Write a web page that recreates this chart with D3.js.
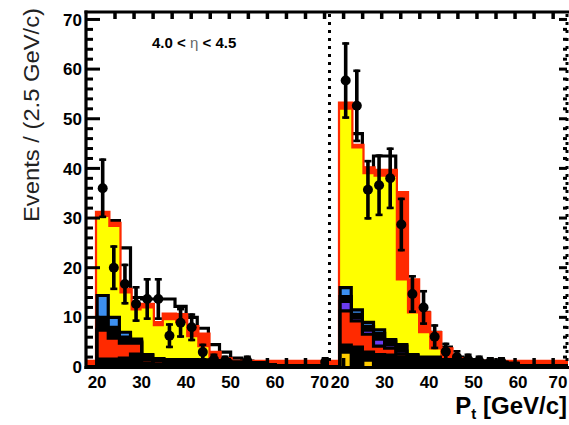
<!DOCTYPE html>
<html><head><meta charset="utf-8">
<script src="https://cdn.jsdelivr.net/npm/d3@7"></script>
<style>body{margin:0;background:#fff}text{font-family:"Liberation Sans",Arial,sans-serif}</style>
</head><body><svg id="c" width="569" height="425"></svg>
<script>
// ---------- data ----------
const binStart = [17.5,20,22.5,25,27.5,30,32.5,35,37.5,40,42.5,45,47.5,50,52.5,55,57.5,60,62.5,65,67.5,70];
const binWidth = 2.5;
const xTickLabels = [20,30,40,50,60,70];
const yTickLabels = [0,10,20,30,40,50,60,70];
const yMinorTicks = d3.range(0,72,2);
const etaText = ["4.0 < ", "η", " < 4.5"];

// panel 1
const total1   = [1.0,31,28.8,15.5,12,12.5,8.8,10.5,10.4,8,6.5,2.8,1.5,1.0,1.0,1.0,1.0,1.0,1.0,1.0,1.0,1.0];
const yellow1  = [0,30.2,28.2,14.8,11.4,11.8,8.2,9.4,8.8,6,4,1.5,0.6,0.2,0,0,0,0,0,0,0,0];
const line1    = [0,29.5,29.5,24,14,13.7,13.7,13.7,12.2,10,7.8,4.5,3,1.8,1.2,0.8,0.5,0.3,0.3,0.3,0.3,0.3];
const bgBlue1  = [0,14.4,10,7,5.6,2.5,1.7,1.5,1.5,1.5,1.4,1.3,1.2,1,0.9,0.9,0.5,0.3,0.3,0.3,0.3,0.3];
const bgDark1  = [0,10,8,6,5.2,2.4,1.6,1.5,1.5,1.5,1.4,1.3,1.2,1,0.9,0.9,0.5,0.3,0.3,0.3,0.3,0.3];
const bgPurple1= [0,7.6,6.0,5.0,5.0,1.6,1.4,1.1,1.1,1.1,1.0,1.0,0.9,0.7,0.7,0.7,0.4,0.2,0.2,0.2,0.2,0.2];
const bgRed1   = [0,7.4,5.8,4.8,4.8,1.4,1.2,0.9,0.9,0.9,0.9,0.9,0.8,0.6,0.6,0.6,0.3,0.2,0.2,0.2,0.2,0.2];
const bgBlack1 = [0,1.6,1.6,1.8,2.6,0.7,0.5,1.3,1.3,1.3,1.2,1.1,1.0,0.8,0.8,0.8,0.3,0.1,0.1,0.1,0.1,0.1];
const bgOrange1= [0,0,0,0,0,0,0,0,0,0,0,0,0,0,0,0,0,0,0,0,0,0];
const data1    = [null,36,20,16.7,12.7,13.7,13.7,6.3,8.9,8,3,1.5,1.2,null,1.2,null,null,null,null,null,null,1];
const err1     = [0,6,4.5,4.1,3.6,4.2,4.2,2.5,3,2.8,1.7,1.2,1.1,0,1.1,0,0,0,0,0,0,1];

// panel 2
const total2   = [1.0,53,44.5,40,39.5,39.5,35,17.4,10.8,6.8,3.5,1.5,1.2,1.0,1.0,1.0,1.0,1.0,1.0,1.0,1.0,1.0];
const yellow2  = [0,51.8,44,38.8,38.3,38.3,17.4,10.8,6.8,3.5,1.5,0.5,0.3,0,0,0,0,0,0,0,0,0];
const line2    = [0,50,47,40,42.5,42.5,34,17,11,7,4,2,1.5,1.2,1,0.8,0.5,0.3,0.3,0.3,0.3,0.3];
const bgBlue2  = [0,16,11.5,9,7.5,5.5,4.5,2.5,2,2,1.5,1.5,1.5,1.2,1,1,0.8,0.3,0.3,0.3,0.3,0.3];
const bgDark2  = [0,14.2,10.6,8.2,6.8,5.2,4.2,2.3,1.8,1.8,1.4,1.4,1.4,1.1,0.9,0.9,0.7,0.3,0.3,0.3,0.3,0.3];
const bgPurple2= [0,13.2,10,7.4,5.6,4.5,3.2,1.8,1.5,1.4,1.2,1.2,1.2,1,0.8,0.8,0.5,0.2,0.2,0.2,0.2,0.2];
const bgRed2   = [0,11.3,9.3,6.6,4.2,3.8,2.6,1.4,1.2,1,0.9,0.9,0.9,0.7,0.6,0.6,0.3,0.2,0.2,0.2,0.2,0.2];
const bgBlack2 = [0,4.4,4,3,2.5,2.4,2,1.2,1,0.9,0.8,0.8,0.8,0.6,0.5,0.5,0.2,0.1,0.1,0.1,0.1,0.1];
const bgOrange2= [0,3,0,1.4,0,0,0,0,0,0,0,0,0,0,0,0,0,0,0,0,0,0];
const data2    = [null,57.7,52.6,35.7,36.6,38,28.7,14.7,12,6.1,3.1,2,1.5,1.2,1,1,null,null,null,null,null,null];
const err2     = [0,7.7,7.3,6,6.2,6.2,5.4,3.8,3.5,2.5,1.8,1.4,1.2,1.1,1,1,0,0,0,0,0,0];

// ---------- drawing ----------
const W = 569, H = 425;
const svg = d3.select('#c');
svg.append('rect').attr('width',W).attr('height',H).attr('fill','#fff');

const y = d3.scaleLinear().domain([0,71.5]).range([367,12]);
const RED = '#ff2a00', YEL = '#ffff00';
const layerColors = ['#3c8ff0','#000000','#6a3cf0','#ff2a00','#000000','#ffcc00'];

const panels = [
  {x: d3.scaleLinear().domain([17.5,72.5]).range([86,330.75]), clip:[86,329],
   total: total1, yellow: yellow1, line: line1,
   layers: [bgBlue1,bgDark1,bgPurple1,bgRed1,bgBlack1,bgOrange1], data: data1, err: err1},
  {x: d3.scaleLinear().domain([17.5,72.5]).range([329,573.75]), clip:[329,568],
   total: total2, yellow: yellow2, line: line2,
   layers: [bgBlue2,bgDark2,bgPurple2,bgRed2,bgBlack2,bgOrange2], data: data2, err: err2}
];

function pts(vals){
  const p = binStart.map((s,i)=>[s, vals[i]]);
  p.push([binStart[binStart.length-1]+binWidth, vals[vals.length-1]]);
  return p;
}
function outlinePts(vals){
  const p = pts(vals);
  return [[binStart[0],0], ...p, [p[p.length-1][0],0]];
}

const defs = svg.append('defs');
panels.forEach((P,pi)=>{
  defs.append('clipPath').attr('id','clip'+pi).append('rect')
    .attr('x',P.clip[0]).attr('y',0).attr('width',P.clip[1]-P.clip[0]).attr('height',368);
  const g = svg.append('g').attr('clip-path',`url(#clip${pi})`);
  const area = d3.area().curve(d3.curveStepAfter).x(d=>P.x(d[0])).y0(y(0)).y1(d=>y(d[1]));
  const line = d3.line().curve(d3.curveStepAfter).x(d=>P.x(d[0])).y(d=>y(d[1]));

  g.append('path').attr('d',line(outlinePts(P.line))).attr('fill','none')
    .attr('stroke','#000').attr('stroke-width',3.2);
  g.append('path').attr('d',area(pts(P.total))).attr('fill',RED);
  g.append('path').attr('d',line(outlinePts(P.total))).attr('fill','none')
    .attr('stroke',RED).attr('stroke-width',4.5);
  g.append('path').attr('d',area(pts(P.yellow))).attr('fill',YEL);
  P.layers.forEach((L,li)=>{
    if (d3.max(L) <= 0) return;
    g.append('path').attr('d',area(pts(L))).attr('fill',layerColors[li]);
    g.append('path').attr('d',line(outlinePts(L))).attr('fill','none')
      .attr('stroke','#000').attr('stroke-width',3.2);
  });
});

// ---------- frame & axes ----------
const fr = svg.append('g');
const stroke = (sel,w)=>sel.attr('stroke','#000').attr('stroke-width',w);
stroke(fr.append('line').attr('x1',86).attr('x2',86).attr('y1',10.5).attr('y2',369),3.2);
stroke(fr.append('line').attr('x1',84.5).attr('x2',569).attr('y1',12).attr('y2',12),3.2);
stroke(fr.append('line').attr('x1',84.5).attr('x2',569).attr('y1',367.5).attr('y2',367.5),3.2);
stroke(fr.append('line').attr('x1',329.5).attr('x2',329.5).attr('y1',14).attr('y2',366),3).attr('stroke-dasharray','3 5');
stroke(fr.append('line').attr('x1',567).attr('x2',567).attr('y1',14).attr('y2',366),3).attr('stroke-dasharray','3 5');

yMinorTicks.forEach(v=>{
  const major = v % 10 === 0;
  stroke(fr.append('line').attr('x1',86).attr('x2',86+(major?14:7)).attr('y1',y(v)).attr('y2',y(v)),3);
  stroke(fr.append('line').attr('x1',567).attr('x2',567-(major?8:4)).attr('y1',y(v)).attr('y2',y(v)),3);
});
const frameTick = d3.scaleLinear().domain([0,1]).range([115,134.05]);
d3.range(0,24).forEach(k=>{
  const xx = frameTick(k);
  stroke(fr.append('line').attr('x1',xx).attr('x2',xx).attr('y1',12).attr('y2',19),3.5);
  stroke(fr.append('line').attr('x1',xx).attr('x2',xx).attr('y1',367).attr('y2',358),3.5);
});

yTickLabels.forEach(v=>{
  fr.append('text').attr('x',82).attr('y',y(v)).attr('dy','0.36em')
    .attr('text-anchor','end').attr('font-size',17).attr('font-weight','bold').text(v);
});
panels.forEach(P=>{
  xTickLabels.forEach(v=>{
    const xx = Math.min(P.x(v), 558);
    fr.append('text').attr('x',xx).attr('y',388).attr('text-anchor','middle')
      .attr('font-size',17).attr('font-weight','bold').text(v);
  });
});

// ---------- data points ----------
panels.forEach((P,pi)=>{
  const g = svg.append('g').attr('clip-path',`url(#clip${pi})`);
  P.data.forEach((v,i)=>{
    if (v === null) return;
    const cx = P.x(binStart[i]+binWidth/2);
    const e = P.err[i];
    stroke(g.append('line').attr('x1',cx).attr('x2',cx).attr('y1',y(v+e)).attr('y2',y(Math.max(0,v-e))),3.6);
    stroke(g.append('line').attr('x1',cx-3.5).attr('x2',cx+3.5).attr('y1',y(v+e)+1.2).attr('y2',y(v+e)+1.2),2.6);
    if (v-e > 0) stroke(g.append('line').attr('x1',cx-3.5).attr('x2',cx+3.5).attr('y1',y(v-e)-1.2).attr('y2',y(v-e)-1.2),2.6);
    g.append('circle').attr('cx',cx).attr('cy',y(v)).attr('r',5).attr('fill','#000');
  });
});

// ---------- titles ----------
svg.append('text').attr('transform','translate(39,115) rotate(-90)')
  .attr('text-anchor','middle').attr('font-size',22).attr('fill','#222')
  .attr('textLength',214).attr('lengthAdjust','spacingAndGlyphs')
  .text('Events / (2.5 GeV/c)');

const pt = svg.append('text').attr('x',567).attr('y',414).attr('text-anchor','end')
  .attr('font-size',24).attr('font-weight','bold');
pt.append('tspan').text('P');
pt.append('tspan').attr('font-size',15).attr('dy',5).text('t');
pt.append('tspan').attr('dy',-5).text(' [GeV/c]');

const eta = svg.append('text').attr('x',152).attr('y',48).attr('font-size',15).attr('font-weight','bold');
eta.append('tspan').text(etaText[0]);
eta.append('tspan').attr('font-weight','normal').attr('fill','#666').text(etaText[1]);
eta.append('tspan').text(etaText[2]);
</script>
</body></html>
